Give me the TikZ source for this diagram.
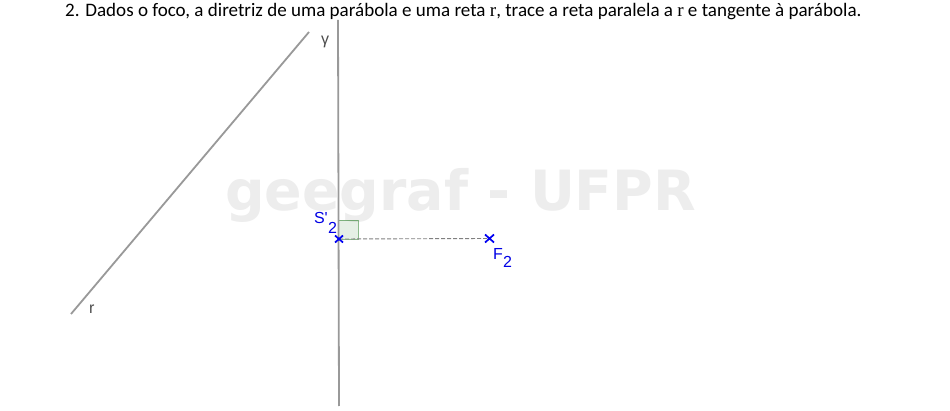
\documentclass[tikz,border=0pt]{standalone}
\usepackage{fontspec}
\setmainfont{Carlito}
\newfontfamily\labelfont{Liberation Sans}
\newfontfamily\markfont{DejaVu Sans}
\newfontfamily\seriffont{Liberation Serif}
\begin{document}
\begin{tikzpicture}[x=1pt,y=-1pt,
  geoline/.style={draw=black!40,line width=1.8pt},
  lab/.style={inner sep=0pt,outer sep=0pt,anchor=base west,font=\labelfont\fontsize{16}{16}\selectfont},
  bluelab/.style={lab,text=blue!90!black},
  ptmark/.style={draw=blue!95!black,line width=1.7pt}]
\useasboundingbox (0,0) rectangle (950,411);
\fill[white] (0,0) rectangle (950,411);
\node[inner sep=0pt,anchor=base west,text=black!7] (wm) at (225,210.5) {\markfont\bfseries\fontsize{55.4}{55}\selectfont geegraf - UFPR};
\node[inner sep=0pt,anchor=base west] (title) at (65,17) {\fontsize{19.05}{22}\selectfont 2. Dados o foco, a diretriz de uma parábola e uma reta {\seriffont r}, trace a reta paralela a {\seriffont r} e tangente à parábola.};
\coordinate (r1) at (71,314);
\coordinate (r2) at (309,32);
\coordinate (g1) at (338,20);
\coordinate (g2) at (339,406);
\coordinate (S) at (339,239);
\coordinate (F) at (489,238.5);
\fill[green!40!black,fill opacity=.1] (339,220) rectangle (358,239);
\draw[green!40!black,draw opacity=.45,line width=.7pt] (339,220) -- (358,220) -- (358,239) -- (339,239);
\draw[geoline] (r1) -- (r2);
\draw[geoline] (g1) -- (g2);
\draw[draw=black!50,line width=.9pt,dash pattern=on 4pt off 2pt] (S) -- (F);
\draw[ptmark] (335,235.5) -- (343,242.5) (335,242.5) -- (343,235.5);
\draw[ptmark] (485,234.5) -- (494,242.5) (485,242.5) -- (494,234.5);
\node[lab,text=black!70] (gl) at (321,45) {\char"03B3};
\node[lab,text=black!70] (rl) at (89,314) {r};
\node[bluelab] (sl) at (314,224) {S'};
\node[bluelab] (sl2) at (328,234) {2};
\node[bluelab] (fl) at (493,260) {F};
\node[bluelab] (fl2) at (503,268) {2};
\end{tikzpicture}
\end{document}
